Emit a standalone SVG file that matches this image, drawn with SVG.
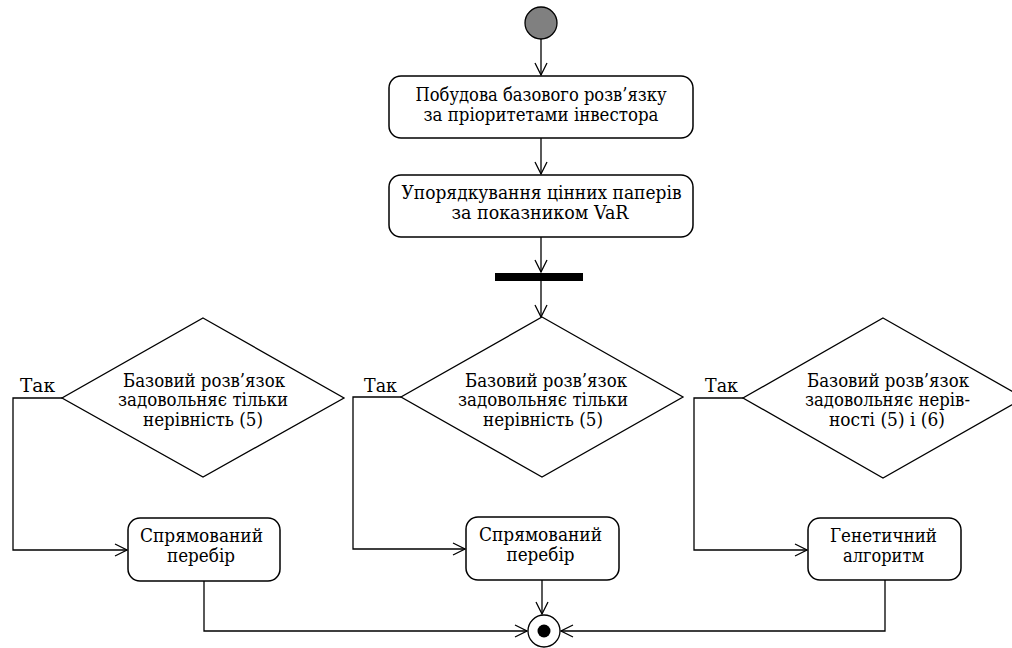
<svg xmlns="http://www.w3.org/2000/svg" width="1012" height="648" viewBox="0 0 1012 648">
<defs>
<marker id="arr" viewBox="0 0 14 14" refX="13" refY="7" markerWidth="14" markerHeight="14" markerUnits="userSpaceOnUse" orient="auto">
<path d="M1,1 L13,7 L1,13" fill="none" stroke="#000" stroke-width="1.3"/>
</marker>
<style>
.box{fill:#fff;stroke:#000;stroke-width:1.5}
.dia{fill:#fff;stroke:#000;stroke-width:1.3}
.ln{fill:none;stroke:#000;stroke-width:1.3}
.t{font-family:"DejaVu Serif","Liberation Serif",serif;font-size:18.5px;fill:#000;text-anchor:middle}
.lbl{font-family:"DejaVu Serif","Liberation Serif",serif;font-size:18.5px;fill:#000}
</style>
</defs>
<rect width="1012" height="648" fill="#fff"/>
<g id="connectors">
<path class="ln" d="M541,39 L541,75" marker-end="url(#arr)"/>
<path class="ln" d="M541,138 L541,174" marker-end="url(#arr)"/>
<path class="ln" d="M541,237 L541,272" marker-end="url(#arr)"/>
<path class="ln" d="M541,281 L541,317" marker-end="url(#arr)"/>
<path class="ln" d="M62,398 L13,398 L13,550 L127,550" marker-end="url(#arr)"/>
<path class="ln" d="M401,397 L353,397 L353,549 L465,549" marker-end="url(#arr)"/>
<path class="ln" d="M743,398 L694,398 L694,550 L807,550" marker-end="url(#arr)"/>
<path class="ln" d="M204,581 L204,631 L527,631" marker-end="url(#arr)"/>
<path class="ln" d="M542,580 L542,614" marker-end="url(#arr)"/>
<path class="ln" d="M885,580 L885,631 L561,631" marker-end="url(#arr)"/>
<text class="lbl" x="20" y="392" textLength="35" lengthAdjust="spacingAndGlyphs">Так</text>
<text class="lbl" x="364" y="392" textLength="33" lengthAdjust="spacingAndGlyphs">Так</text>
<text class="lbl" x="705" y="392" textLength="33" lengthAdjust="spacingAndGlyphs">Так</text>
</g>
<g id="start">
<circle cx="541" cy="23" r="16" fill="#808080" stroke="#000" stroke-width="1.3"/>
</g>
<g id="box1">
<rect class="box" x="389" y="76" width="304" height="62" rx="12"/>
<text class="t" x="541" y="101" textLength="251" lengthAdjust="spacingAndGlyphs">Побудова базового розв’язку</text>
<text class="t" x="541" y="120.5" textLength="235" lengthAdjust="spacingAndGlyphs">за пріоритетами інвестора</text>
</g>
<g id="box2">
<rect class="box" x="389" y="175" width="304" height="62" rx="12"/>
<text class="t" x="541.5" y="199" textLength="280" lengthAdjust="spacingAndGlyphs">Упорядкування цінних паперів</text>
<text class="t" x="540" y="219" textLength="177" lengthAdjust="spacingAndGlyphs">за показником VaR</text>
</g>
<g id="fork">
<rect x="495" y="273" width="88" height="8" fill="#000"/>
</g>
<g id="dec1">
<polygon class="dia" points="203,318 344,398 203,477 62,398"/>
<text class="t" x="204" y="386.5" textLength="162" lengthAdjust="spacingAndGlyphs">Базовий розв’язок</text>
<text class="t" x="203" y="406" textLength="170" lengthAdjust="spacingAndGlyphs">задовольняє тільки</text>
<text class="t" x="203" y="425.5" textLength="120" lengthAdjust="spacingAndGlyphs">нерівність (5)</text>
</g>
<g id="dec2">
<polygon class="dia" points="542,317 683,397 542,477 401,397"/>
<text class="t" x="546" y="386.5" textLength="162" lengthAdjust="spacingAndGlyphs">Базовий розв’язок</text>
<text class="t" x="543" y="406" textLength="170" lengthAdjust="spacingAndGlyphs">задовольняє тільки</text>
<text class="t" x="543" y="425.5" textLength="120" lengthAdjust="spacingAndGlyphs">нерівність (5)</text>
</g>
<g id="dec3">
<polygon class="dia" points="883,318 1024,398 883,478 743,398"/>
<text class="t" x="888" y="386.5" textLength="162" lengthAdjust="spacingAndGlyphs">Базовий розв’язок</text>
<text class="t" x="887.5" y="406" textLength="165" lengthAdjust="spacingAndGlyphs">задовольняє нерів-</text>
<text class="t" x="887" y="425.5" textLength="116" lengthAdjust="spacingAndGlyphs">ності (5) і (6)</text>
</g>
<g id="boxA">
<rect class="box" x="128" y="518" width="152" height="63" rx="12"/>
<text class="t" x="201.5" y="542" textLength="123" lengthAdjust="spacingAndGlyphs">Спрямований</text>
<text class="t" x="201" y="562" textLength="68" lengthAdjust="spacingAndGlyphs">перебір</text>
</g>
<g id="boxB">
<rect class="box" x="466" y="517" width="153" height="63" rx="12"/>
<text class="t" x="540.5" y="541" textLength="123" lengthAdjust="spacingAndGlyphs">Спрямований</text>
<text class="t" x="540.5" y="561" textLength="68" lengthAdjust="spacingAndGlyphs">перебір</text>
</g>
<g id="boxC">
<rect class="box" x="808" y="518" width="153" height="62" rx="12"/>
<text class="t" x="883.5" y="542" textLength="107" lengthAdjust="spacingAndGlyphs">Генетичний</text>
<text class="t" x="883.5" y="562" textLength="81" lengthAdjust="spacingAndGlyphs">алгоритм</text>
</g>
<g id="end">
<circle cx="544" cy="631" r="16" fill="#fff" stroke="#000" stroke-width="1.3"/>
<circle cx="544" cy="631" r="6.5" fill="#000"/>
</g>
</svg>
